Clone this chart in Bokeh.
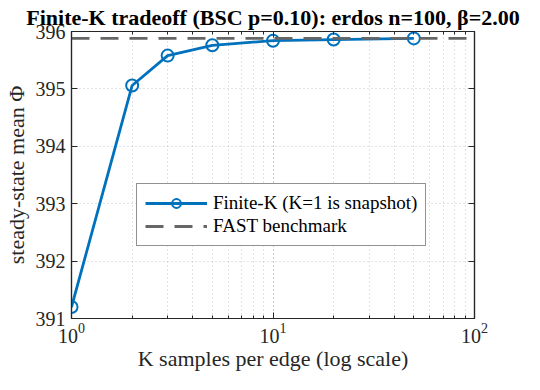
from bokeh.plotting import figure
from bokeh.models import (LogAxis, LinearAxis, FixedTicker, LogTicker, Range1d,
                          Legend, LegendItem)
from bokeh.embed import file_html
from bokeh.resources import INLINE

# ---- data ----
K_values = [1, 2, 3, 5, 10, 20, 50]
phi_values = [391.20, 395.06, 395.58, 395.76, 395.84, 395.86, 395.88]
fast_benchmark = 395.88
x_limits = [1, 100]
y_limits = [391, 396]
y_ticks = [391, 392, 393, 394, 395, 396]

title_text = "Finite-K tradeoff (BSC p=0.10): erdos n=100, \u03b2=2.00"
x_label = "K samples per edge (log scale)"
y_label = "steady-state mean \u03a6"
series_label = "Finite-K (K=1 is snapshot)"
bench_label = "FAST benchmark"

FONT = "Liberation Serif"
BLUE = "#0072BD"
GRAY = "#666666"
DARK = "#262626"

p = figure(width=524, height=374, x_axis_type="log",
           x_range=Range1d(*x_limits), y_range=Range1d(*y_limits),
           output_backend="svg", toolbar_location=None,
           min_border_left=60, min_border_right=50,
           min_border_top=20, min_border_bottom=56)

p.title.text = title_text
p.title.text_font = FONT
p.title.text_font_size = "22px"
p.title.text_font_style = "bold"
p.title.align = "center"
p.title.text_color = "black"
p.title.standoff = 4
p.title.offset = 0

p.background_fill_color = "white"
p.border_fill_color = "white"
p.outline_line_color = DARK
p.outline_line_width = 1.2

def style_axis(ax):
    ax.axis_line_color = DARK
    ax.axis_line_width = 1.2
    ax.major_tick_in = 6
    ax.major_tick_out = 0
    ax.minor_tick_in = 3
    ax.minor_tick_out = 0
    ax.major_tick_line_color = DARK
    ax.minor_tick_line_color = DARK
    ax.major_label_text_font = FONT
    ax.major_label_text_font_size = "20px"
    ax.major_label_text_color = DARK
    ax.axis_label_text_font = FONT
    ax.axis_label_text_font_size = "22px"
    ax.axis_label_text_font_style = "normal"
    ax.axis_label_text_color = DARK

xaxis = p.xaxis[0]
yaxis = p.yaxis[0]
style_axis(xaxis)
style_axis(yaxis)
xaxis.ticker = LogTicker(num_minor_ticks=10)
xaxis.axis_label = x_label
xaxis.major_label_standoff = 4
xaxis.axis_label_standoff = 0
yaxis.ticker = FixedTicker(ticks=y_ticks, minor_ticks=[])
yaxis.axis_label = y_label
yaxis.major_label_standoff = 6
yaxis.axis_label_standoff = 4

# right / top box axes (ticks only)
top_ax = LogAxis(ticker=LogTicker(num_minor_ticks=10))
right_ax = LinearAxis(ticker=FixedTicker(ticks=y_ticks, minor_ticks=[]))
for ax in (top_ax, right_ax):
    style_axis(ax)
    ax.major_label_text_font_size = "1px"
    ax.major_label_text_alpha = 0
    ax.major_label_standoff = 0
p.add_layout(top_ax, "above")
p.add_layout(right_ax, "right")

# grids
GRID = "#c4c4c4"
p.xgrid.ticker = LogTicker(num_minor_ticks=10)
p.xgrid.grid_line_color = GRID
p.xgrid.grid_line_dash = "1 3"
p.xgrid.minor_grid_line_color = GRID
p.xgrid.minor_grid_line_dash = "1 3"
p.ygrid.ticker = FixedTicker(ticks=y_ticks, minor_ticks=[])
p.ygrid.grid_line_color = GRID
p.ygrid.grid_line_dash = "1 3"

# data
r_line = p.line(K_values, phi_values, line_color=BLUE, line_width=2.8)
r_pts = p.scatter(K_values, phi_values, marker="circle", size=12,
                  fill_color=None, line_color=BLUE, line_width=2)
r_bench = p.line(x_limits, [fast_benchmark, fast_benchmark], line_color=GRAY,
                 line_width=2.8, line_dash="18 11")

legend = Legend(items=[LegendItem(label=series_label, renderers=[r_line, r_pts]),
                       LegendItem(label=bench_label, renderers=[r_bench])],
                location=(65, 72))
legend.label_text_font = FONT
legend.label_text_font_size = "19px"
legend.label_text_color = "black"
legend.border_line_color = DARK
legend.border_line_width = 1.2
legend.background_fill_alpha = 1
legend.glyph_width = 62
legend.glyph_height = 22
legend.label_height = 22
legend.spacing = 1
legend.padding = 8
legend.margin = 0
legend.label_standoff = 6
p.add_layout(legend, "center")

open("out.html", "w").write(file_html(p, INLINE))
